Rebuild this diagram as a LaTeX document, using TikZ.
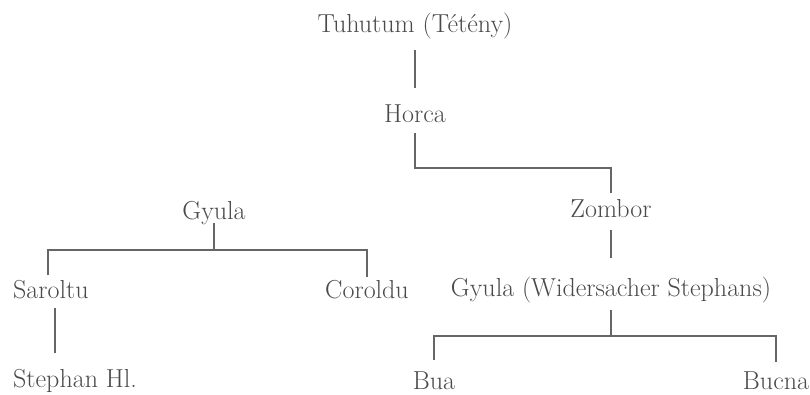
\documentclass[tikz,border=0pt]{standalone}
\usepackage{xcolor}
\definecolor{txt}{HTML}{4A4A4A}
\definecolor{ln}{HTML}{666666}
\begin{document}
\begin{tikzpicture}[x=1pt,y=-1pt,
  person/.style={inner sep=0pt,text=txt,font=\fontsize{26}{30}\selectfont},
  link/.style={draw=ln,line width=1.1pt}]
\useasboundingbox (0,0) rectangle (810,395);
\node[person,anchor=base] (tuh) at (415,33) {Tuhutum (Tétény)};
\node[person,anchor=base] (hor) at (415,123) {Horca};
\node[person,anchor=base] (zom) at (611,218) {Zombor};
\node[person,anchor=base] (gw) at (611,296) {Gyula (Widersacher Stephans)};
\node[person,anchor=base] (bua) at (434,389) {Bua};
\node[person,anchor=base] (buc) at (776,389) {Bucna};
\node[person,anchor=base] (gl) at (214,219) {Gyula};
\node[person,anchor=base west] (sar) at (13,298) {Saroltu};
\node[person,anchor=base] (cor) at (367,298) {Coroldu};
\node[person,anchor=base west] (ste) at (13,387) {Stephan Hl.};
\draw[link] ([yshift=-17pt]tuh.base) -- ([yshift=35pt]hor.base);
\draw[link] ([yshift=-10pt]hor.base) -- ++(0,35) -| ([yshift=25pt]zom.base);
\draw[link] ([yshift=-12pt]zom.base) -- ([yshift=38pt]gw.base);
\draw[link] ([yshift=-14pt]gw.base) -- ++(0,26) coordinate (gj);
\draw[link] ([yshift=29pt]bua.base) |- (gj) -| ([yshift=27pt]buc.base);
\draw[link] ([yshift=-4pt]gl.base) -- ++(0,27) coordinate (lj);
\draw[link] ([xshift=35pt,yshift=23pt]sar.base west) |- (lj) -| ([yshift=21pt]cor.base);
\draw[link] ([xshift=42pt,yshift=-10pt]sar.base west) -- ([xshift=42pt,yshift=34pt]ste.base west);
\end{tikzpicture}
\end{document}
